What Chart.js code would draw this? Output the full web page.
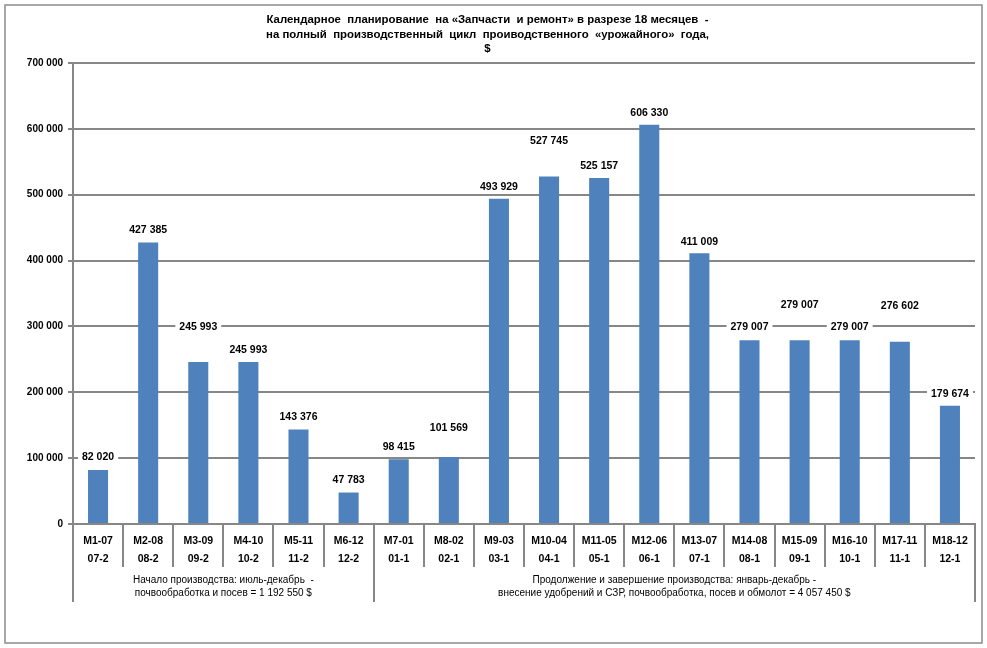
<!DOCTYPE html>
<html>
<head>
<meta charset="utf-8">
<script src="https://cdn.jsdelivr.net/npm/chart.js@4.4.0/dist/chart.umd.min.js"></script>
<style>
  html, body { margin: 0; padding: 0; background: #fff; }
  #wrap { width: 987px; height: 648px; }
</style>
</head>
<body>
<div id="wrap"><canvas id="chart" width="987" height="648"></canvas></div>
<script>
// Calendar plan "Spare parts and repair", 18 months

const months = ['M1-07','M2-08','M3-09','M4-10','M5-11','M6-12','M7-01','M8-02','M9-03','M10-04','M11-05','M12-06','M13-07','M14-08','M15-09','M16-10','M17-11','M18-12'];
const periods = ['07-2','08-2','09-2','10-2','11-2','12-2','01-1','02-1','03-1','04-1','05-1','06-1','07-1','08-1','09-1','10-1','11-1','12-1'];
const costs = [82020, 427385, 245993, 245993, 143376, 47783, 98415, 101569, 493929, 527745, 525157, 606330, 411009, 279007, 279007, 279007, 276602, 179674];

// how far (px) each value label sits above its bar
const labelLift = [13, 12, 35, 12, 12, 12, 12.5, 29, 12, 35, 12, 11.5, 11.5, 13, 35, 13, 36, 12];

const groupStarts = [0, 6, 18];
const groupTexts = [
  ['Начало производства: июль-декабрь  -', 'почвообработка и посев = 1 192 550 $'],
  ['Продолжение и завершение производства: январь-декабрь -', 'внесение удобрений и СЗР, почвообработка, посев и обмолот = 4 057 450 $']
];

const titleLines = [
  'Календарное  планирование  на «Запчасти  и ремонт» в разрезе 18 месяцев  -',
  'на полный  производственный  цикл  проиводственного  «урожайного»  года,',
  '$'
];

const FONT = '"Liberation Sans", Arial, sans-serif';
const GRID = '#878787';

function fmt(v) { return String(v).replace(/\B(?=(\d{3})+(?!\d))/g, ' '); }

const extras = {
  id: 'extras',
  afterDatasetsDraw(chart) {
    const ctx = chart.ctx;
    const meta = chart.getDatasetMeta(0);
    ctx.save();
    ctx.font = 'bold 10.5px ' + FONT;
    ctx.textAlign = 'center';
    ctx.textBaseline = 'middle';
    meta.data.forEach((bar, i) => {
      const txt = fmt(costs[i]);
      const w = ctx.measureText(txt).width;
      const y = bar.y - labelLift[i];
      ctx.fillStyle = '#fff';
      ctx.fillRect(bar.x - w / 2 - 4, y - 7, w + 8, 14);
      ctx.fillStyle = '#000';
      ctx.fillText(txt, bar.x, y);
    });
    ctx.restore();
  },
  afterDraw(chart) {
    const ctx = chart.ctx;
    const x = chart.scales.x;
    const top = chart.chartArea.bottom;
    ctx.save();
    // long separators between the two periods
    ctx.strokeStyle = GRID;
    ctx.lineWidth = 2;
    groupStarts.forEach(i => {
      const px = Math.round(x.getPixelForValue(i - 0.5));
      ctx.beginPath();
      ctx.moveTo(px, top);
      ctx.lineTo(px, top + 78);
      ctx.stroke();
    });
    // period captions
    ctx.fillStyle = '#000';
    ctx.font = '10px ' + FONT;
    ctx.textAlign = 'center';
    ctx.textBaseline = 'middle';
    groupTexts.forEach((lines, g) => {
      const cx = (x.getPixelForValue(groupStarts[g] - 0.5) + x.getPixelForValue(groupStarts[g + 1] - 0.5)) / 2;
      lines.forEach((t, k) => ctx.fillText(t, cx, top + 56 + k * 13.5));
    });
    // outer frame
    ctx.strokeStyle = '#8c8c8c';
    ctx.lineWidth = 1.5;
    ctx.strokeRect(5, 5, 977, 638);
    ctx.restore();
  }
};

new Chart(document.getElementById('chart'), {
  type: 'bar',
  data: {
    labels: months.map((m, i) => [m, periods[i]]),
    datasets: [{
      data: costs,
      backgroundColor: '#4f81bd',
      barPercentage: 0.4,
      categoryPercentage: 1
    }]
  },
  options: {
    responsive: false,
    animation: false,
    layout: { padding: { left: 0, right: 12, top: 0, bottom: 0 } },
    plugins: {
      legend: { display: false },
      tooltip: { enabled: false },
      title: {
        display: true,
        text: titleLines,
        color: '#000',
        font: { family: FONT, size: 11.4, weight: 'bold', lineHeight: 1.25 },
        padding: { top: 13, bottom: 7.2 }
      }
    },
    scales: {
      x: {
        afterFit: s => { s.height = 124; },
        grid: { display: true, offset: true, drawOnChartArea: false, drawTicks: true, tickLength: 43, color: GRID, lineWidth: 2 },
        border: { display: true, color: GRID, width: 2 },
        ticks: {
          autoSkip: false, maxRotation: 0, padding: -35,
          color: '#000',
          font: { family: FONT, size: 10.5, weight: 'bold', lineHeight: 1.7 }
        }
      },
      y: {
        min: 0, max: 700000,
        afterFit: s => { s.width = 73; },
        grid: { color: GRID, lineWidth: 2, tickLength: 5 },
        border: { display: true, color: GRID, width: 2 },
        ticks: {
          stepSize: 100000, padding: 5, color: '#000',
          font: { family: FONT, size: 10, weight: 'bold' },
          callback: v => fmt(v)
        }
      }
    }
  },
  plugins: [extras]
});
</script>
</body>
</html>
